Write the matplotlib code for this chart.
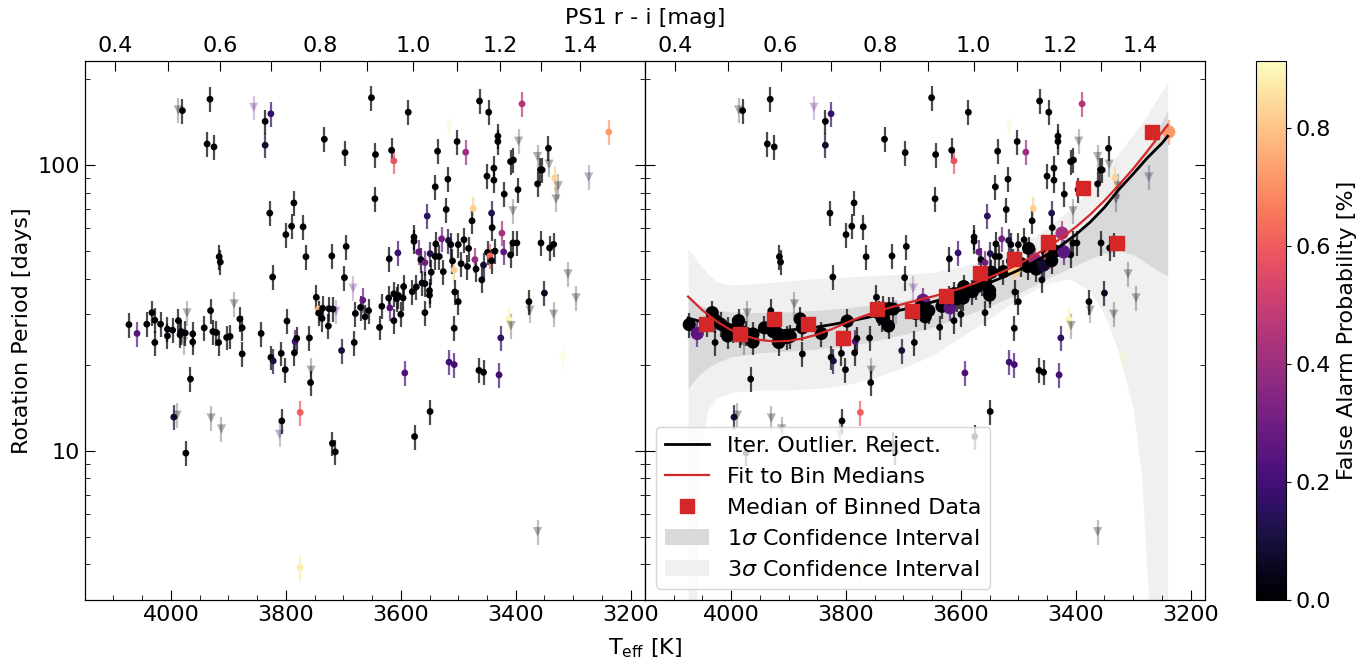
import numpy as np
import matplotlib
matplotlib.use('Agg')
import matplotlib.pyplot as plt
from matplotlib.lines import Line2D
from matplotlib.patches import Patch
from matplotlib.ticker import FixedLocator, LogLocator, NullFormatter, FuncFormatter

# ---- measured stars: Teff [K], rotation period [d], FAP, 1 = triangle marker
teff = [3987, 3980, 3932, 3856, 3836, 3826, 3937, 3925, 3836, 3733,
        3697, 3828, 3786, 3800, 3790, 3770, 3765, 3916, 3914, 3823,
        3720, 3695, 3698,
        3683, 3666, 3747, 3743, 3743, 3736, 3737, 3725, 3718, 3713,
        3726, 3679, 3670, 3662, 3656, 3681, 3703, 3719, 3714, 3775,
        3775, 3811, 3807, 3995, 3989, 3974, 3930, 3912, 3890,
        4073, 4059, 4042, 4033, 4028, 4028, 4018, 4006, 4006, 3997,
        3987, 3984, 3982, 3978, 3975, 3972, 3962, 3962, 3966, 3942,
        3931, 3927, 3921, 3917, 3903, 3897, 3880, 3876, 3876, 3843,
        3826, 3822, 3808, 3801, 3798, 3784, 3781, 3785, 3759, 3757,
        3756,
        3651, 3644, 3645, 3616, 3612, 3587, 3536, 3540, 3518, 3521,
        3554, 3516, 3502, 3487, 3463, 3447, 3431, 3431, 3450, 3438,
        3438, 3420, 3396, 3389, 3395, 3409, 3404, 3362, 3343, 3342,
        3357, 3354, 3362, 3332, 3326, 3330, 3405, 3238, 3273, 3474,
        3442, 3441, 3476, 3424, 3577, 3577, 3620, 3605, 3569, 3565,
        3558, 3549, 3529, 3539, 3540, 3533, 3517, 3513, 3500, 3490,
        3482, 3510, 3495, 3484, 3526, 3547, 3563, 3507, 3471, 3469,
        3456, 3459, 3449, 3445, 3442, 3436, 3421, 3409, 3405, 3398,
        3356, 3341, 3334, 3309,
        3637, 3633, 3619, 3621, 3612, 3612, 3607, 3604, 3600, 3596,
        3595, 3580, 3573, 3558, 3550, 3550, 3558, 3506, 3500, 3507,
        3516, 3507, 3464, 3456, 3426, 3429, 3412, 3408, 3377, 3375,
        3350, 3334, 3295, 3317, 3593, 3549, 3576, 3362]

prot = [155.6, 154.9, 169.8, 159, 142, 151, 118.4, 115.6, 117.2, 123,
        110.4, 67.8, 73.6, 57, 61, 60.7, 47.7, 47.7, 45.7, 40.5,
        48, 51.8, 40.3,
        37.0, 33.6, 34.4, 31.3, 30.3, 31.5, 29.0, 31.4, 31.3, 30.7,
        27.3, 30.2, 31.7, 29.4, 30.9, 23.9, 22.4, 10.6, 9.9, 13.6,
        3.9, 11.4, 12.7, 13.1, 13.3, 9.8, 13.0, 11.9, 32.6,
        27.6, 25.7, 27.7, 30.4, 28.6, 23.9, 27.7, 26.6, 25.2, 26.4,
        28.5, 25.4, 26.1, 24.1, 25.8, 30.3, 25.6, 24.0, 17.8, 26.9,
        30.9, 26.1, 25.9, 23.9, 24.9, 25.1, 28.9, 26.9, 21.8, 25.7,
        21.2, 20.6, 21.9, 19.2, 28.4, 24.1, 24.7, 22.0, 24.8, 17.3,
        19.1,
        171.8, 108.7, 76.1, 112.5, 103.3, 152.9, 111.6, 83.8, 89.1, 69.8,
        66.2, 135, 120.7, 110.8, 167.3, 152.9, 126, 120.7, 91.3, 97.4,
        88.4, 79, 81.9, 163.5, 121, 102.7, 104, 106.9, 114.3, 100.5,
        96, 96, 85.8, 90, 84.4, 75.9, 69, 130.4, 90.6, 70.4,
        67.8, 60.3, 63.7, 57.7, 55.9, 54.0, 46.9, 49.2, 49.6, 46.6,
        45.5, 48.9, 55.1, 52.9, 47.8, 47.8, 54.4, 52.6, 52.6, 54.7,
        51.0, 46.1, 45.1, 44.1, 42.3, 42.1, 38.6, 42.9, 46.6, 43.2,
        44.6, 39.6, 49.4, 48.0, 46.2, 49.9, 49.6, 48.4, 53.3, 53.3,
        53.3, 51.2, 52.7, 41.5,
        27.0, 32.0, 31.6, 34.2, 35.4, 28.5, 34.0, 34.9, 30.0, 34.2,
        37.5, 36.0, 37.4, 38.4, 35.0, 36.3, 30.4, 35.9, 33.2, 26.8,
        20.4, 20.0, 19.1, 18.8, 24.8, 18.4, 28.8, 27.4, 33.2, 31.0,
        35.6, 30.0, 34.2, 21.2, 18.7, 13.7, 11.2, 5.2]

fap = [0, 0, 0, 0.25, 0, 0.17, 0, 0, 0.08, 0,
       0, 0, 0, 0, 0, 0, 0, 0, 0, 0,
       0, 0, 0,
       0.25, 0.28, 0, 0.78, 0, 0, 0, 0, 0, 0.2,
       0, 0, 0, 0, 0, 0, 0.1, 0, 0, 0.6,
       0.88, 0.15, 0, 0.08, 0, 0, 0, 0, 0,
       0, 0.25, 0, 0, 0, 0, 0, 0, 0, 0,
       0, 0, 0, 0, 0, 0, 0, 0, 0, 0,
       0, 0, 0, 0, 0, 0, 0, 0, 0, 0,
       0, 0.1, 0, 0, 0, 0.22, 0, 0, 0, 0,
       0,
       0, 0, 0, 0, 0.58, 0, 0, 0, 0, 0,
       0.15, 0.9, 0, 0.4, 0, 0, 0, 0, 0, 0,
       0, 0, 0, 0.45, 0, 0, 0, 0, 0, 0,
       0, 0, 0, 0.83, 0, 0, 0, 0.72, 0.1, 0.82,
       0.12, 0, 0, 0.42, 0, 0, 0, 0.18, 0.28, 0,
       0.3, 0.12, 0.3, 0, 0, 0, 0.1, 0, 0, 0,
       0, 0, 0, 0, 0, 0, 0, 0.82, 0.38, 0,
       0.08, 0, 0, 0.62, 0, 0, 0.25, 0, 0, 0,
       0, 0, 0, 0,
       0, 0, 0.25, 0, 0, 0, 0, 0, 0, 0,
       0, 0, 0, 0, 0, 0, 0, 0, 0, 0,
       0.2, 0.2, 0, 0, 0.15, 0.2, 0.9, 0, 0, 0,
       0.05, 0, 0, 0.9, 0.22, 0, 0, 0]

is_tri = [1, 0, 0, 1, 0, 0, 0, 0, 0, 0,
          0, 0, 0, 0, 0, 0, 0, 0, 0, 0,
          0, 0, 0,
          1, 0, 0, 0, 0, 0, 0, 0, 0, 1,
          0, 0, 0, 0, 0, 0, 0, 0, 0, 0,
          0, 1, 0, 0, 1, 0, 1, 1, 1,
          0, 0, 0, 0, 0, 0, 0, 0, 0, 0,
          0, 0, 0, 1, 0, 1, 0, 0, 0, 0,
          0, 0, 0, 0, 0, 0, 0, 0, 0, 0,
          0, 0, 0, 0, 0, 0, 0, 0, 0, 0,
          1,
          0, 0, 0, 0, 0, 0, 0, 0, 0, 0,
          0, 1, 0, 0, 0, 0, 0, 0, 0, 0,
          0, 0, 0, 0, 1, 0, 0, 1, 0, 1,
          0, 0, 0, 0, 1, 1, 1, 0, 1, 0,
          0, 0, 0, 0, 0, 0, 0, 0, 0, 0,
          0, 0, 0, 0, 0, 0, 0, 0, 0, 0,
          0, 0, 0, 0, 0, 0, 0, 0, 0, 0,
          0, 0, 0, 0, 0, 0, 0, 0, 0, 0,
          0, 0, 0, 1,
          0, 0, 0, 0, 0, 0, 0, 0, 0, 0,
          0, 0, 0, 0, 0, 0, 0, 0, 0, 0,
          0, 0, 0, 0, 0, 0, 0, 1, 0, 1,
          0, 1, 1, 1, 0, 0, 0, 1]

ERR_FRAC = 0.1  # error bar half length, fraction of period

# ---- medians of binned data
bin_teff = [4044, 3985, 3926, 3866, 3806, 3746, 3686, 3626, 3567, 3508, 3448, 3388, 3328, 3268]
bin_prot = [27.7, 25.6, 28.8, 27.7, 24.7, 31.3, 30.9, 34.8, 41.8, 46.9, 53.8, 83.3, 53.3, 130.4]

# ---- fit curves
fit_teff = [4075, 4050, 4025, 4000, 3975, 3950, 3925, 3900, 3875, 3850,
            3825, 3800, 3775, 3750, 3725, 3700, 3675, 3650, 3625, 3600,
            3575, 3550, 3525, 3500, 3475, 3450, 3425, 3400, 3375, 3350,
            3325, 3300, 3275, 3250, 3240]
fit_iter = [29.1, 28.2, 27.4, 26.8, 26.4, 26.2, 26.2, 26.4, 26.7, 27.1,
            27.6, 28.2, 28.9, 29.6, 30.4, 31.2, 32.1, 33.1, 34.2, 35.5,
            37.0, 38.7, 40.6, 42.8, 45.4, 48.5, 52.3, 57.0, 63.0, 71,
            82, 93, 106, 119, 126]
fit_bins = [34.6, 31.0, 28.3, 26.4, 25.2, 24.4, 24.1, 24.2, 24.7, 25.5,
            26.6, 28.0, 29.3, 30.5, 31.6, 32.6, 33.6, 34.6, 35.7, 37.0,
            38.6, 40.4, 42.5, 44.9, 47.8, 51.3, 55.5, 60.6, 67, 75,
            85, 97, 112, 130, 138]

# ---- confidence bands
band_teff = [4075, 4065, 4055, 4040, 4025, 4000, 3950, 3900, 3850, 3800,
             3750, 3700, 3650, 3600, 3550, 3500, 3450, 3410, 3375, 3350,
             3325, 3300, 3285, 3275, 3260, 3240]
s3_hi = [51, 48, 45, 41.5, 39, 38, 38.5, 39.3, 40, 40.5,
         41, 41.5, 42, 44, 47, 52, 60, 70, 82, 95,
         110, 128, 140, 150, 168, 195]
s3_lo = [1, 1, 10, 14, 15.3, 16, 16.3, 16.3, 16.5, 17,
         18, 19.5, 21.5, 25, 29, 34, 38.5, 40, 36, 30,
         22, 14, 8, 3.5, 1, 1]
s1_hi = [34, 33, 32.3, 31.5, 31, 30.6, 30.4, 30.6, 31, 31.6,
         32.5, 33.5, 35, 37, 40, 44, 50, 56, 63, 71,
         82, 96, 106, 114, 130, 155]
s1_lo = [16.5, 17.5, 18.5, 19.5, 20.3, 21.3, 22, 22.3, 22.7, 23.2,
         24.2, 25.5, 27, 29.3, 32, 35.5, 40, 43.5, 47, 49,
         50, 48.5, 46.5, 45, 43, 41]

# ---- top axis: PS1 r - i ticks and where they fall in Teff
ri_text = ['0.4', '', '0.6', '', '0.8', '', '1.0', '', '1.2', '', '1.4']
ri_teff = [4097, 4005, 3914, 3826, 3740, 3658, 3578, 3502, 3427, 3356, 3288]

plt.rcParams['font.size'] = 16
cmap = plt.get_cmap('magma')
norm = plt.Normalize(0, 0.913)
c_s1 = '#d9d9d9'
c_s3 = '#f0f0f0'

t = np.array(teff, float)
p = np.array(prot, float)
f = np.array(fap, float)
tri = np.array(is_tri, bool)
cols = cmap(norm(f))

fig = plt.figure(figsize=(13.72, 6.66), dpi=100)
ax1 = fig.add_axes([0.06174, 0.0991, 0.40838, 0.80931])
ax2 = fig.add_axes([0.47012, 0.0991, 0.40816, 0.80931])
cax = fig.add_axes([0.91545, 0.0991, 0.02187, 0.80931])


def draw_points(ax):
    circ = ~tri
    ax.vlines(t[circ], p[circ] * (1 - ERR_FRAC), p[circ] * (1 + ERR_FRAC),
              colors=cols[circ], lw=1.6, alpha=0.7, zorder=1)
    ax.vlines(t[tri], p[tri] * (1 - ERR_FRAC), p[tri] * (1 + ERR_FRAC),
              colors=cols[tri], lw=1.6, alpha=0.25, zorder=1)
    ax.scatter(t[circ], p[circ], c=f[circ], cmap=cmap, norm=norm, s=24,
               linewidths=0, zorder=2)
    ax.scatter(t[tri], p[tri], c=f[tri], cmap=cmap, norm=norm, s=45,
               marker='v', alpha=0.3, linewidths=0, zorder=2)


def style_axes(ax, left_labels):
    ax.set_yscale('log')
    ax.set_xlim(4150, 3175)
    ax.set_ylim(3.0, 231)
    ax.set_xticks([4000, 3800, 3600, 3400, 3200])
    ax.set_xticks(np.arange(4150, 3175, -50), minor=True)
    ax.yaxis.set_major_locator(FixedLocator([10, 100]))
    ax.yaxis.set_major_formatter(FuncFormatter(lambda v, _: '%d' % v))
    ax.yaxis.set_minor_locator(LogLocator(base=10, subs=np.arange(2, 10)))
    ax.yaxis.set_minor_formatter(NullFormatter())
    ax.tick_params(which='both', direction='in', right=True, top=False)
    ax.tick_params(which='major', length=7)
    ax.tick_params(which='minor', length=3.5)
    if not left_labels:
        ax.tick_params(labelleft=False)
    tw = ax.twiny()
    tw.set_xlim(ax.get_xlim())
    tw.set_xticks(ri_teff)
    tw.set_xticklabels(ri_text)
    tw.tick_params(direction='in', length=7)


draw_points(ax1)
style_axes(ax1, True)
ax1.set_ylabel('Rotation Period [days]')

# right panel: same data plus trend fits
ax2.fill_between(band_teff, s3_lo, s3_hi, color=c_s3, lw=0, zorder=0.2)
ax2.fill_between(band_teff, s1_lo, s1_hi, color=c_s1, lw=0, zorder=0.3)
draw_points(ax2)
# stars kept by the iterative fit: close to the trend, over its fitted range
logfit = np.interp(t, fit_teff[::-1], np.log10(fit_iter[::-1]))
near = np.abs(np.log10(p) - logfit) < 0.06
member = (~tri) & near & (((t > 3420) & (t <= 4080)) | (t < 3250))
ax2.scatter(t[member], p[member], c=f[member], cmap=cmap, norm=norm, s=90,
            linewidths=0, zorder=3)
ax2.plot(fit_teff, fit_iter, color='black', lw=2, zorder=4)
ax2.plot(fit_teff, fit_bins, color='#d62728', lw=1.6, zorder=4)
ax2.plot(bin_teff, bin_prot, 's', color='#d62728', ms=10, zorder=5)
style_axes(ax2, False)

handles = [Line2D([], [], color='black', lw=2),
           Line2D([], [], color='#d62728', lw=1.6),
           Line2D([], [], marker='s', ls='none', color='#d62728', ms=10),
           Patch(facecolor=c_s1, edgecolor='none'),
           Patch(facecolor=c_s3, edgecolor='none')]
labels = ['Iter. Outlier. Reject.', 'Fit to Bin Medians', 'Median of Binned Data',
          r'1$\sigma$ Confidence Interval', r'3$\sigma$ Confidence Interval']
ax2.legend(handles, labels, loc='lower left')

sm = plt.cm.ScalarMappable(cmap=cmap, norm=norm)
cb = fig.colorbar(sm, cax=cax)
cb.set_ticks([0.0, 0.2, 0.4, 0.6, 0.8])
cb.set_label('False Alarm Probability [%]')

fig.text(0.4701, 0.027, r'T$_{\rm eff}$ [K]', ha='center', va='center')
fig.text(0.4701, 0.973, 'PS1 r - i [mag]', ha='center', va='center')

fig.savefig('out.png', dpi=100)
